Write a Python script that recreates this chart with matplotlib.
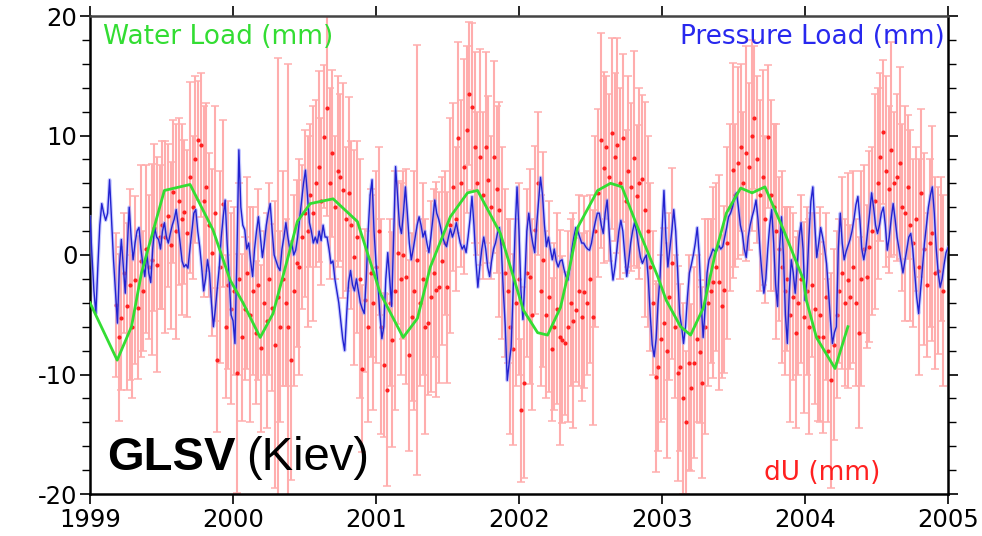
import numpy as np
import pandas as pd
import matplotlib
matplotlib.use("Agg")
import matplotlib.pyplot as plt
from matplotlib.ticker import MultipleLocator

plt.rcParams['font.family'] = ['DejaVu Sans']

# ---------------- data ----------------
# Water load (mm), roughly monthly model values (decimal year, value)
water_t = [1999.00, 1999.19, 1999.29, 1999.36, 1999.52, 1999.70, 1999.86, 1999.98,
           2000.07, 2000.19, 2000.28, 2000.38, 2000.45, 2000.54, 2000.70, 2000.87,
           2001.03, 2001.19, 2001.29, 2001.38, 2001.52, 2001.64, 2001.71, 2001.87,
           2002.03, 2002.13, 2002.20, 2002.29, 2002.36, 2002.41, 2002.55, 2002.64,
           2002.72, 2002.83, 2002.97, 2003.03, 2003.13, 2003.20, 2003.29, 2003.37,
           2003.45, 2003.55, 2003.63, 2003.72, 2003.85, 2003.99, 2004.01, 2004.08,
           2004.21, 2004.30]
water_v = [-4.0, -8.8, -6.0, -1.5, 5.4, 5.9, 2.1, -2.1,
           -4.0, -6.9, -4.9, -0.4, 2.8, 4.3, 4.7, 2.8,
           -3.2, -6.9, -5.3, -1.0, 3.2, 5.2, 5.4, 1.8,
           -4.6, -6.5, -6.7, -4.4, -0.7, 2.3, 5.4, 6.0,
           5.7, 2.3, -1.8, -3.8, -6.0, -6.7, -4.4, 0.0,
           3.5, 5.6, 5.2, 5.7, 2.1, -2.1, -3.8, -6.9,
           -9.5, -6.0]

# Pressure load (mm), 73 samples per year (about every 5 days)
press_1999 = [3.2, 0.0, -3.0, -4.9, -1.0, 2.5, 4.3, 3.5, 2.9, 3.5, 6.3, 3.0, -0.4, -3.0, -5.7,
              -1.0, 1.3, -1.0, -3.2, 0.5, 4.0, 1.5, -0.4, 1.0, 2.0, 2.3, 0.5, -0.8, -1.8, 0.2,
              -1.5, -2.3, 0.5, 2.3, 1.5, 1.3, 0.5, 2.0, 2.7, 1.5, 1.0, 1.8, 2.5, 3.0, 3.8,
              2.5, 1.0, -0.5, -1.0, -0.8, -1.1, 0.5, 2.0, 3.5, 3.8, 2.0, 0.7, -1.0, -3.0,
              -2.0, -0.4, -1.5, -4.0, -6.0, -4.5, -2.7, -1.0, 1.5, 3.2, 4.6, 1.0, -1.8, -5.0]
press_2000 = [-5.5, -7.4, 0.0, 8.8, 4.0, 2.5, 2.1, 0.5, 1.0, -0.5, -1.8, 0.5, 2.0, 3.2, 1.5,
              -0.2, 1.0, 2.5, 3.5, 4.3, 2.0, 0.0, -0.5, -1.0, -1.3, 0.5, 1.5, 2.7, 1.5, 0.5,
              1.0, 0.0, 0.4, 1.5, 3.0, 4.5, 6.0, 7.1, 5.0, 2.7, 2.0, 1.0, 1.5, 1.0, 2.0,
              1.2, 2.5, 1.5, 1.5, 0.5, -0.7, -0.5, -2.0, -3.0, -4.0, -5.5, -7.0, -8.0, -5.0,
              -2.3, -1.3, -2.5, -3.0, -2.0, -3.0, -4.0, -4.5, -4.9, -2.0, 2.0, 5.0, 6.3, 2.0]
press_2001 = [-0.7, -2.5, -5.0, -7.0, -6.0, -2.0, 0.2, -2.0, -4.3, 1.5, 7.4, 5.0, 2.5, 1.8, 3.5,
              5.7, 3.5, 1.0, -0.4, 0.5, 1.5, 2.5, 3.2, 2.5, 1.5, 2.0, 1.0, 0.2, 1.5, 3.0,
              4.6, 3.5, 3.0, 2.3, 1.5, 1.0, 0.7, 1.5, 2.2, 1.5, 2.0, 2.7, 1.8, 1.0, 0.5,
              0.8, 0.2, 1.5, 3.0, 4.9, 2.5, -0.5, -2.7, -1.0, 0.5, 1.5, 0.5, -1.0, -1.8,
              -0.5, 0.5, 1.0, 1.8, 2.3, 0.5, -3.0, -6.0, -10.5, -9.0, -7.7, -3.0, 2.0, 5.7]
press_2002 = [2.0, -3.0, -5.4, -2.0, 2.0, 3.5, 2.0, 1.0, 0.2, 2.5, 4.5, 6.5, 5.0, 2.5, 0.7,
              1.5, 0.5, -0.4, 0.5, -0.5, -1.0, -0.5, -0.4, -1.2, -1.8, -2.1, -1.0, 0.5, 1.5,
              2.3, 2.0, 1.5, 1.0, 1.0, 0.7, 0.5, 0.4, 1.0, 2.0, 2.8, 3.5, 3.5, 2.5, 1.8,
              3.5, 4.6, 2.0, -0.5, -2.1, -1.0, 0.5, 2.0, 2.9, 2.0, 0.0, -1.8, -0.5, 1.0,
              2.0, 2.7, 2.0, 0.8, -0.2, -0.7, -0.3, 0.0, -2.0, -5.0, -7.5, -8.5, -7.0, -4.0, -1.8]
press_2003 = [2.0, 5.4, 1.5, -1.0, 0.5, 2.0, 3.8, 2.0, -1.5, -4.9, -6.0, -7.4, -6.0, -3.5, -1.5,
              -0.8, 0.0, 1.0, 2.3, 0.0, -4.0, -6.9, -4.5, -1.5, -0.4, 0.0, 0.5, 0.3, 0.4,
              0.8, 0.5, 0.7, 1.5, 2.3, 3.2, 3.5, 4.0, 4.8, 5.2, 4.0, 2.5, 1.8, 0.5, -0.2,
              1.5, 2.5, 3.2, 3.8, 4.6, 3.0, 0.5, -1.5, -3.2, -2.0, 0.5, 2.5, 3.8, 1.0, -2.5,
              -4.3, 0.5, 3.2, 0.0, -5.0, -7.4, -3.0, -0.4, -1.5, -3.2, -1.0, 1.5, 2.7, 0.5]
press_2004 = [-3.8, -2.0, 1.5, 4.5, 5.7, 2.5, -0.2, 1.0, 2.3, 1.5, 0.5, -0.7, -3.0, -5.5, -7.4,
              -6.5, -6.0, 0.5, 3.5, 1.0, -0.4, 0.3, 0.8, 1.3, 2.0, 3.0, 4.2, 4.9, 3.0, 0.5,
              -0.4, 0.5, 2.0, 3.5, 5.2, 4.0, 2.5, 1.8, 2.5, 3.5, 4.0, 2.5, 0.4, 1.5, 3.0,
              4.3, 3.0, 1.5, 0.5, -0.5, -1.5, -0.5, 0.5, 1.5, 1.8, 0.5, -1.5, -3.5, -4.9,
              -3.0, -1.0, 1.0, 2.5, 4.0, 5.0, 5.7, 3.5, 0.5, -1.5, -2.7, -2.0, -0.8, 0.2, 0.6]
press_v = press_1999 + press_2000 + press_2001 + press_2002 + press_2003 + press_2004

# dU (mm): weekly GPS vertical solutions from 1999-03-08, with 1-sigma errors
du_1999 = [-4.2, -6.9, -5.3, -1.5, -4.3, -2.5, -6.0, -2.1, -4.4, -0.5, -3.0, 0.5, -1.0, -0.4,
           2.3, -0.8, 1.5, 2.5, 1.5, 3.3, 0.8, 5.3, 2.0, 4.5, 3.0, 3.6, 1.8, 6.5, 4.0, 8.0,
           9.6, 9.2, 4.5, 5.7, 2.5, 0.2, 3.5, -8.8, -1.0, 4.3, -6.0, -2.5, -4.5]
du_2000 = [-3.0, -9.9, -2.0, -6.9, -4.5, -1.5, -5.0, -3.0, -6.5, -2.5, -7.8, -4.0, -5.5, -2.0,
           -4.4, -7.5, -3.5, -6.0, -2.0, -4.0, -6.0, -8.8, -3.0, -0.7, -1.0, 1.5, 3.5, 2.0,
           5.0, 3.5, 6.0, 7.4, 4.5, 9.9, 12.3, 6.0, 8.5, 4.0, 7.0, 6.5, 5.4, 3.0, 5.2, 2.5,
           -0.2, 1.5, -2.0, -9.5, -3.8, -6.0, -1.5, -4.0]
du_2001 = [-1.0, 2.0, -6.0, -9.2, -11.3, -4.0, -7.1, -3.0, 0.2, -2.0, 0.0, -1.8, -8.4, -5.2,
           -3.0, -0.4, -4.0, -2.0, -6.0, -5.7, -3.5, -1.5, -2.9, -2.7, -0.5, 1.0, -2.7, 2.5,
           5.7, 3.0, 9.8, 6.0, 7.4, 10.5, 13.5, 12.4, 9.0, 6.0, 8.2, 5.0, 9.0, 6.3, 4.0, 8.2,
           5.5, 3.8, 1.0, -1.5, -3.0, -6.0, -7.9, -4.0]
du_2002 = [-2.0, -13.0, -10.7, -1.5, -1.8, -5.0, 2.1, 6.0, -3.0, -0.4, -5.0, -3.5, -7.9, -6.0,
           -4.5, -6.9, -7.1, -7.4, -6.0, -4.0, -5.5, -4.6, -3.0, -5.2, -3.1, -4.0, -2.0, -5.2,
           2.0, 5.2, 9.6, 7.3, 9.0, 6.5, 10.2, 8.2, 9.2, 6.0, 9.8, 4.5, 7.0, 5.7, 8.1, 4.9,
           6.0, 6.4, 3.8, 2.0, -1.0, -4.0, -10.2, -9.4]
du_2003 = [-7.0, -5.7, -8.0, -3.5, -0.7, -6.0, -9.9, -9.4, -12.0, -14.0, -9.0, -11.1, -9.0, -7.0,
           -8.1, -10.7, -6.0, -4.0, -3.0, -2.3, -1.0, -2.3, -4.3, -2.9, 1.0, 4.0, 7.1, 5.0,
           7.7, 9.0, 6.0, 8.5, 7.4, 10.0, 11.5, 8.0, 5.0, 6.5, 3.0, 9.9, 5.0, 4.0, 2.0, 0.5,
           -1.0, -3.0, -2.0, -5.0, -3.5, -6.5, -4.0, -2.0]
du_2004 = [-5.2, -3.0, -6.0, -2.5, -4.5, -6.9, -5.0, -6.9, -3.5, -8.0, -10.5, -7.5, -5.0, -3.0,
           -1.5, -4.0, -2.1, -3.5, -1.0, -4.0, -6.5, -2.0, 0.5, -1.8, 0.7, 2.0, 4.5, 6.0, 8.2,
           10.3, 7.0, 5.5, 8.8, 6.0, 6.5, 7.7, 4.0, 3.5, 5.7, 2.5, 1.0, 3.0, -1.0, 5.2, 0.5,
           -2.5, 1.0, 1.8, -1.5, -1.3, 0.5, -3.0]
err_1999 = [6, 7, 6, 5, 7, 8, 6, 7, 6, 8, 5, 7, 6, 8, 7, 9, 6, 7, 8, 6, 7, 6, 9, 7, 8, 6, 7, 8,
            6, 7, 5, 6, 8, 7, 6, 7, 9, 6, 8, 7, 6, 7, 8]
err_2000 = [7, 10, 8, 7, 6, 8, 9, 7, 6, 8, 7, 6, 9, 8, 7, 12, 20, 8, 9, 7, 22, 10, 8, 7, 9, 6,
            7, 8, 6, 9, 7, 8, 7, 6, 9, 8, 7, 6, 8, 7, 9, 6, 8, 7, 9, 8, 10, 7, 6, 8, 7, 9]
err_2001 = [8, 7, 9, 6, 8, 7, 9, 10, 6, 8, 7, 9, 8, 7, 10, 18, 7, 8, 9, 6, 8, 7, 9, 8, 7, 6,
            8, 9, 7, 6, 8, 7, 9, 7, 6, 7, 8, 6, 9, 7, 8, 7, 6, 8, 7, 9, 8, 7, 6, 9, 8, 7]
err_2002 = [8, 6, 8, 7, 9, 8, 7, 6, 8, 9, 7, 8, 6, 7, 8, 9, 7, 6, 8, 7, 9, 6, 8, 7, 8, 6,
            7, 9, 8, 7, 9, 8, 6, 7, 8, 7, 9, 8, 7, 6, 8, 7, 9, 6, 8, 7, 9, 8, 7, 6, 8, 7]
err_2003 = [7, 8, 9, 7, 8, 6, 9, 7, 8, 6, 9, 7, 8, 7, 6, 8, 9, 7, 6, 8, 7, 9, 6, 7, 8, 7,
            9, 6, 8, 7, 6, 9, 7, 8, 6, 7, 8, 9, 7, 6, 8, 7, 9, 6, 8, 7, 6, 9, 7, 8, 6, 7]
err_2004 = [8, 7, 9, 6, 8, 7, 9, 8, 7, 6, 9, 8, 7, 6, 8, 7, 9, 6, 8, 7, 8, 9, 7, 6, 8, 7,
            9, 8, 7, 6, 8, 7, 9, 6, 7, 8, 7, 9, 6, 8, 7, 6, 9, 7, 8, 6, 7, 9, 8, 7, 6, 8]

du_v = []
du_e = []
for v, e in [(du_1999, err_1999), (du_2000, err_2000), (du_2001, err_2001),
             (du_2002, err_2002), (du_2003, err_2003), (du_2004, err_2004)]:
    n = min(len(v), len(e))
    du_v += v[:n]
    du_e += e[:n]

x_ticks = [1999, 2000, 2001, 2002, 2003, 2004, 2005]
y_ticks = [-20, -10, 0, 10, 20]

# ---------------- derived time axes ----------------
def decimal_year(dates):
    d = pd.DatetimeIndex(dates)
    start = pd.to_datetime(d.year.astype(str) + "-01-01")
    end = pd.to_datetime((d.year + 1).astype(str) + "-01-01")
    return d.year + (d - start) / (end - start)

du_t = np.asarray(decimal_year(pd.date_range("1999-03-08", periods=len(du_v), freq="7D")))
press_t = 1999 + np.arange(len(press_v)) / 73.0

# ---------------- figure ----------------
fig = plt.figure(figsize=(9.82, 5.36), dpi=100)
ax = fig.add_axes([90 / 982, 42 / 536, 858 / 982, 478 / 536])

ax.errorbar(du_t, du_v, yerr=du_e, fmt='none', ecolor='#ffadad', elinewidth=1.5,
            capsize=2.8, capthick=1.1, zorder=1)
ax.plot(du_t, du_v, linestyle='none', marker='o', markersize=3.0, color='#ff2020',
        markeredgewidth=0, zorder=2)
ax.plot(press_t, press_v, color='#9aa0ff', lw=2.6, alpha=0.55, zorder=3,
        solid_joinstyle='round')
ax.plot(press_t, press_v, color='#2222d0', lw=1.0, zorder=4)
ax.plot(water_t, water_v, color='#33dd33', lw=2.0, zorder=5)

ax.set_xlim(1999, 2005)
ax.set_ylim(-20, 20)
ax.set_xticks(x_ticks)
ax.set_xticklabels([str(t) for t in x_ticks])
ax.set_yticks(y_ticks)
ax.set_yticklabels([str(t) for t in y_ticks])
ax.yaxis.set_minor_locator(MultipleLocator(2))

ax.tick_params(axis='both', which='major', direction='out', length=7, width=1.2,
               labelsize=17.5, colors='black', top=True, right=True)
ax.tick_params(axis='y', which='minor', direction='out', length=5.5, width=1.0,
               left=True, right=True)
ax.tick_params(axis='x', which='major', pad=3)
ax.tick_params(axis='y', which='major', pad=2)
for s in ax.spines.values():
    s.set_linewidth(1.8)
    s.set_color('black')
ax.spines['top'].set_color('#444444')

ax.text(0.015, 0.957, "Water Load (mm)", transform=ax.transAxes, color='#33dd33',
        fontsize=19, ha='left', va='center')
ax.text(0.9965, 0.957, "Pressure Load (mm)", transform=ax.transAxes, color='#2828ee',
        fontsize=19, ha='right', va='center')
ax.text(0.853, 0.03, "dU (mm)", transform=ax.transAxes, color='#ff2020',
        fontsize=19, ha='center', va='baseline')

t1 = ax.text(0.02, 0.05, "GLSV", transform=ax.transAxes, color='black',
             fontsize=34, fontweight='bold', ha='left', va='baseline',
             family=['Liberation Sans', 'DejaVu Sans'])
fig.canvas.draw()
bb = t1.get_window_extent()
inv = ax.transAxes.inverted()
x_end = inv.transform((bb.x1 + 10, bb.y0))[0]
ax.text(x_end, 0.05, "(Kiev)", transform=ax.transAxes, color='black',
        fontsize=34, ha='left', va='baseline', family=['Liberation Sans', 'DejaVu Sans'])

fig.savefig("out.png", dpi=100)
